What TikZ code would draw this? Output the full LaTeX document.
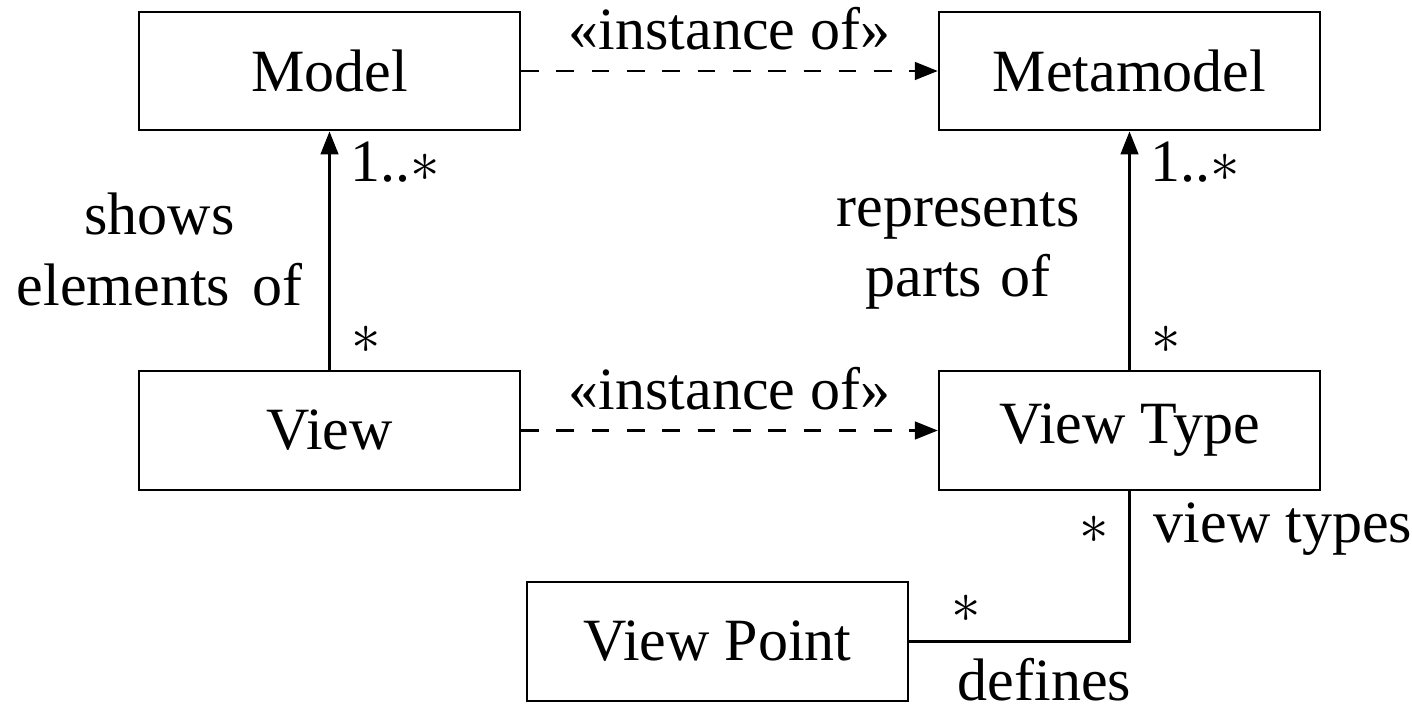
\documentclass[tikz,border=0pt]{standalone}
\usepackage{fontspec}
\setmainfont{Liberation Serif}
\usetikzlibrary{arrows.meta}
% multiplicity star, set on the math axis
\newcommand\mlt{$\ast$}
\begin{document}
\begin{tikzpicture}[x=0.17pt,y=-0.17pt,
  font=\fontsize{10.2}{12}\selectfont,
  cls/.style={draw,line width=0.4pt,minimum width=64.77pt,minimum height=20.15pt,inner sep=0pt},
  tip/.style={-{Triangle[length=3.9pt,width=3pt]}},
  dep/.style={dashed,tip},
  assoc/.style={tip},
  twoline/.style={anchor=base,inner sep=0pt}]
\useasboundingbox (0,0) rectangle (1412,705);

% classes
\node[cls] (model)  at (329.5,71)    {Model};
\node[cls] (meta)   at (1129.5,71)   {Metamodel};
\node[cls] (view)   at (329.5,430.5) {View};
\node[cls] (vtype)  at (1129.5,430.5){View Type};
\node[cls] (vpoint) at (717.5,641.5) {View Point};

% instance-of dependencies
\draw[dep] (model) -- node[above] (inst1) {«instance of»} (meta);
\draw[dep] (view)  -- node[above] (inst2) {«instance of»} (vtype);

% associations
\draw[assoc] (view)  -- (model);
\draw[assoc] (vtype) -- (meta);
\draw (vtype) |- (vpoint);

% multiplicities and role names
\node[anchor=base west] (m1) at (329.5,182)  {1..\mlt};
\node[anchor=base west] (m2) at (1129.5,182) {1..\mlt};
\node[anchor=base west] (m3) at (331,353)    {\mlt};
\node[anchor=base west] (m4) at (1131,354)   {\mlt};
\node[anchor=base east] (m5) at (1130,543)   {\mlt};
\node[anchor=base west] (vtl) at (1133,542)  {view types};
\node[anchor=base] (m6) at (966,622) {\mlt};
\node[anchor=base west] (def) at (937,700) {defines};

\node[twoline] (shows) at (159.5,235)
  {\begin{tabular}[t]{@{}c@{}}shows\\elements\hspace{0.12em} of\end{tabular}};
\node[twoline] (repr) at (958,226)
  {\begin{tabular}[t]{@{}c@{}}represents\\parts\hspace{0.06em} of\end{tabular}};
\end{tikzpicture}
\end{document}
